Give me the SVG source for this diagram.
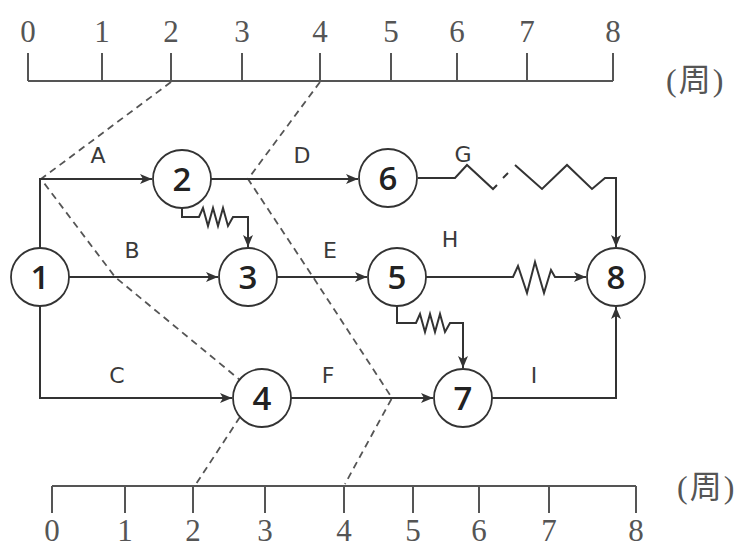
<svg xmlns="http://www.w3.org/2000/svg" width="746" height="548" viewBox="0 0 746 548">
<defs>
<marker id="arr" viewBox="0 0 12 10" refX="12" refY="5" markerWidth="12" markerHeight="10" markerUnits="userSpaceOnUse" orient="auto">
<path d="M0,0 L12,5 L0,10 L3,5 Z" fill="#333"/>
</marker>
<style>
.ax{fill:none;stroke:#555;stroke-width:2}
.axt{font-family:"Liberation Serif","Noto Sans CJK SC",serif;font-size:31px;fill:#555;text-anchor:middle}
.unit{font-family:"Liberation Serif","Noto Sans CJK SC",serif;font-size:32px;fill:#555;letter-spacing:2px}
.e{fill:none;stroke:#333;stroke-width:2;stroke-linejoin:miter}
.ea{fill:none;stroke:#333;stroke-width:2;marker-end:url(#arr)}
.pl{fill:none;stroke:#555;stroke-width:1.8;stroke-dasharray:7 5}
.lbl{font-family:"DejaVu Sans",sans-serif;font-size:22px;fill:#3a3a3a;text-anchor:middle}
.nc{fill:#fff;stroke:#333;stroke-width:1.8}
.nt{font-family:"Open Sans","DejaVu Sans",sans-serif;font-size:33px;font-weight:600;fill:#222;text-anchor:middle}
</style>
</defs>
<rect width="746" height="548" fill="#fff"/>
<g id="top-axis">
<path class="ax" d="M28,81 H613 M28,53 V81 M102,53 V81 M171,53 V81 M242,53 V81 M320,53 V81 M391,53 V81 M457,53 V81 M527,53 V81 M613,53 V81"/>
<text class="axt" x="28" y="42">0</text><text class="axt" x="102" y="42">1</text><text class="axt" x="171" y="42">2</text><text class="axt" x="242" y="42">3</text><text class="axt" x="320" y="42">4</text><text class="axt" x="391" y="42">5</text><text class="axt" x="457" y="42">6</text><text class="axt" x="527" y="42">7</text><text class="axt" x="613" y="42">8</text>
<text class="unit" x="666" y="91">(周)</text>
</g>
<g id="bottom-axis">
<path class="ax" d="M52,486 H636 M52,486 V513 M125,486 V513 M193,486 V513 M265,486 V513 M344,486 V513 M413,486 V513 M479,486 V513 M549,486 V513 M636,486 V513"/>
<text class="axt" x="52" y="541">0</text><text class="axt" x="125" y="541">1</text><text class="axt" x="193" y="541">2</text><text class="axt" x="265" y="541">3</text><text class="axt" x="344" y="541">4</text><text class="axt" x="413" y="541">5</text><text class="axt" x="479" y="541">6</text><text class="axt" x="549" y="541">7</text><text class="axt" x="636" y="541">8</text>
<text class="unit" x="677" y="498">(周)</text>
</g>
<g id="progress-lines">
<polyline class="pl" points="171,82 41,179 115,277 240,380"/>
<line class="pl" x1="240" y1="417" x2="196" y2="484"/>
<polyline class="pl" points="320,82 248,179 313,277 392,398 345,484"/>
</g>
<g id="connectors">
<path class="ea" d="M40,248 V179 H152"/>
<path class="ea" d="M69,277 H218"/>
<path class="ea" d="M40,306 V398 H232"/>
<path class="ea" d="M211,179 H358"/>
<path class="ea" d="M277,277 H367"/>
<path class="ea" d="M291,398 H433"/>
<path class="e" d="M418,178 H455 L467,165 L493,189 L497,185"/>
<path class="e" d="M503,178 L508,173"/>
<path class="ea" d="M515,165 L542,189 L567,165 L592,189 L605,178 H616 V247"/>
<path class="ea" d="M426,277 H513 L518,266 L527,293 L535,262 L544,293 L551,270 L555,277 H586"/>
<path class="ea" d="M492,398 H616 V307"/>
<path class="ea" d="M182,208 V217 H199 L203,208 L208,226 L213,208 L218,226 L223,208 L228,226 L233,217 H248 V247"/>
<path class="ea" d="M397,306 V323 H416 L420,314 L425,332 L430,314 L435,332 L440,314 L445,332 L450,323 H463 V368"/>
</g>
<g id="edge-labels">
<text class="lbl" x="98" y="163">A</text>
<text class="lbl" x="132" y="258">B</text>
<text class="lbl" x="117" y="383">C</text>
<text class="lbl" x="302" y="163">D</text>
<text class="lbl" x="330" y="258">E</text>
<text class="lbl" x="328" y="383">F</text>
<text class="lbl" x="463" y="162">G</text>
<text class="lbl" x="450" y="247">H</text>
<text class="lbl" x="534" y="383">I</text>
</g>
<g id="node1"><circle class="nc" cx="40" cy="277" r="29"/><text class="nt" x="40" y="289">1</text></g>
<g id="node2"><circle class="nc" cx="182" cy="179" r="29"/><text class="nt" x="182" y="191">2</text></g>
<g id="node3"><circle class="nc" cx="248" cy="277" r="29"/><text class="nt" x="248" y="289">3</text></g>
<g id="node4"><circle class="nc" cx="262" cy="398" r="29"/><text class="nt" x="262" y="410">4</text></g>
<g id="node5"><circle class="nc" cx="397" cy="277" r="29"/><text class="nt" x="397" y="289">5</text></g>
<g id="node6"><circle class="nc" cx="388" cy="178" r="29"/><text class="nt" x="388" y="190">6</text></g>
<g id="node7"><circle class="nc" cx="463" cy="398" r="29"/><text class="nt" x="463" y="410">7</text></g>
<g id="node8"><circle class="nc" cx="616" cy="277" r="29"/><text class="nt" x="616" y="289">8</text></g>
</svg>
